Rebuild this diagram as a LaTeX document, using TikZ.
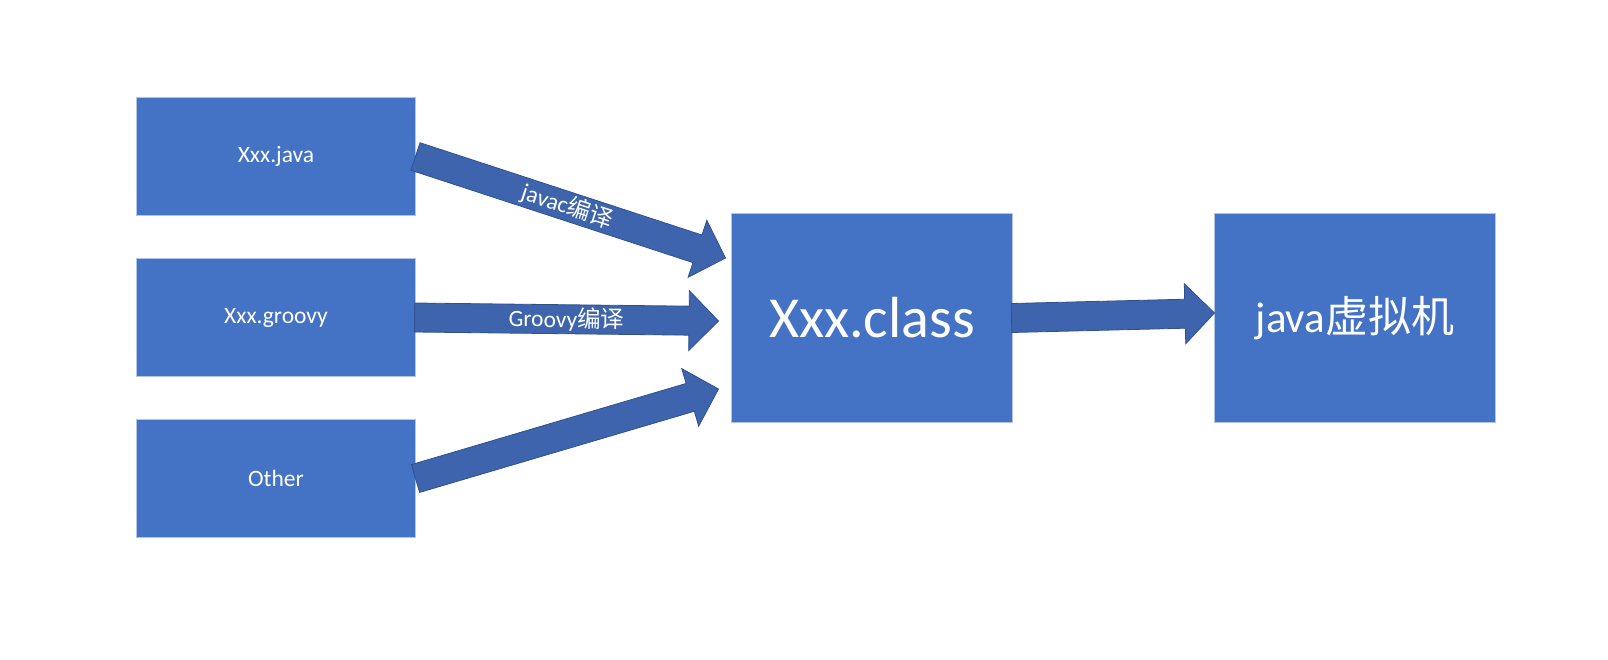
\documentclass[tikz,border=0pt]{standalone}
\usepackage{fontspec}
\setmainfont{Carlito}
\newfontfamily\cjk{Noto Sans CJK SC}
\usetikzlibrary{calc}
\definecolor{boxfill}{HTML}{4472C4}
\definecolor{boxline}{HTML}{B4C3E2}
\definecolor{arrfill}{HTML}{3D64AD}
\definecolor{arrline}{HTML}{2F528F}
\tikzset{
  srcbox/.style={rectangle, fill=boxfill, draw=boxline, line width=1pt, inner sep=0pt, outer sep=0pt,
    minimum width=279pt, minimum height=118pt, text=white, font=\fontsize{23.5}{28}\selectfont},
  bigbox/.style={srcbox, minimum width=281pt, minimum height=209pt},
  barrow/.style={fill=arrfill, draw=arrline, line width=0.8pt, line join=miter},
  alabel/.style={text=white, font=\fontsize{23.5}{28}\selectfont, inner sep=0pt, sloped}
}
\newcommand{\blockarrow}[3]{%
  \coordinate (#3h) at ($(#2)!29.5pt!(#1)$);
  \draw[barrow] ($(#1)!14.5pt!90:(#2)$) -- ($(#3h)!14.5pt!90:(#2)$) -- ($(#3h)!30pt!90:(#2)$)
    -- (#2) -- ($(#3h)!30pt!-90:(#2)$) -- ($(#3h)!14.5pt!-90:(#2)$) -- ($(#1)!14.5pt!-90:(#2)$) -- cycle;
}
\begin{document}
\begin{tikzpicture}[x=1pt,y=-1pt]
\useasboundingbox (0,0) rectangle (1608,660);
\node[srcbox] (java) at (276,156.5) {Xxx.java};
\node[srcbox] (groovy) at (276,317.5) {Xxx.groovy};
\node[srcbox] (other) at (276,478.5) {Other};
\node[bigbox, font=\fontsize{58}{66}\selectfont] (cls) at (872,318) {Xxx.class};
\node[bigbox, font=\fontsize{43}{50}\selectfont] (jvm) at (1355,318) {java{\cjk 虚拟机}};
% arrow end points
\coordinate (tip1) at ($(cls.west)+(-6,-60)$);
\coordinate (tip2) at ($(cls.west)+(-13,3)$);
\coordinate (tip3) at ($(cls.west)+(-13,71)$);
\coordinate (tip4) at ($(jvm.west)+(0,-5)$);
\coordinate (tail1) at ($(java.east)+(0,0)$);
\coordinate (tail2) at ($(groovy.east)+(-1,0)$);
\coordinate (tail3) at ($(other.east)+(0,0)$);
\coordinate (tail4) at ($(cls.east)+(-1,0)$);
\blockarrow{tail1}{tip1}{a}
\blockarrow{tail2}{tip2}{b}
\blockarrow{tail3}{tip3}{c}
\blockarrow{tail4}{tip4}{d}
\path (tail1) -- (tip1) node[alabel, pos=0.49] {javac{\cjk 编译}};
\path (tail2) -- (tip2) node[alabel, pos=0.5] {Groovy{\cjk 编译}};
\end{tikzpicture}
\end{document}
